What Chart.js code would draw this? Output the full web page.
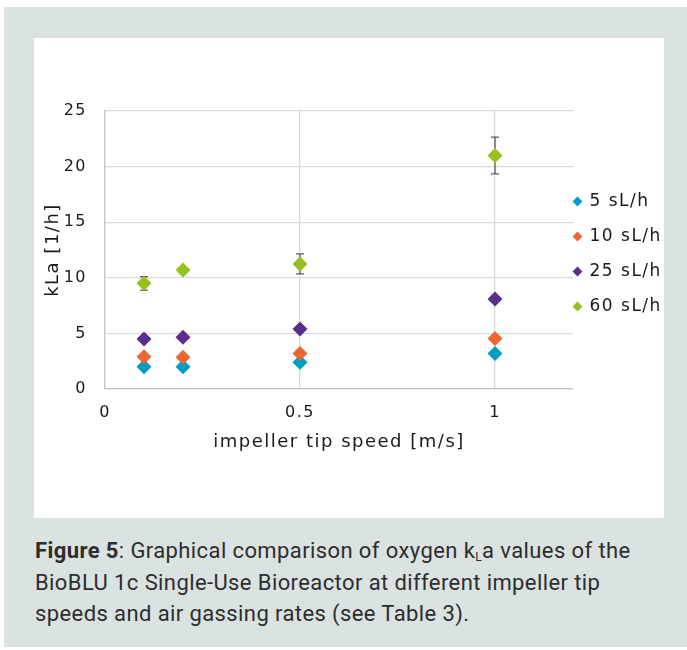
<!DOCTYPE html>
<html>
<head>
<meta charset="utf-8">
<script src="https://cdn.jsdelivr.net/npm/chart.js@4/dist/chart.umd.min.js"></script>
<style>
    html, body { margin: 0; padding: 0; background: #fff; }
    #frame { position: absolute; left: 4px; top: 7px; width: 690px; height: 640px; background: #dae3e1; }
    #panel { position: absolute; left: 34px; top: 38px; width: 630px; height: 480px; background: #fff; }
    #caption {
        position: absolute; left: 35px; top: 535px; width: 645px;
        font-family: Roboto, sans-serif; font-size: 22px; letter-spacing: 0.4px; line-height: 31.5px; color: #2d2d2d;
    }
    #caption sub { font-size: 12px; vertical-align: -3px; line-height: 0; }
</style>
</head>
<body>
<div id="frame"></div>
<div id="panel"><canvas id="chart-kla" width="630" height="480"></canvas></div>
<div id="caption"><b>Figure 5</b>: Graphical comparison of oxygen k<sub>L</sub>a values of the<br>BioBLU 1c Single-Use Bioreactor at different impeller tip<br>speeds and air gassing rates (see Table 3).</div>

<script>
// impeller tip speed [m/s]
const SPEEDS = [0.1, 0.2, 0.5, 1.0];

// kLa [1/h] per gassing rate
const KLA_5 = [2.0, 2.0, 2.4, 3.2];
const KLA_10 = [2.9, 2.85, 3.2, 4.55];
const KLA_25 = [4.5, 4.65, 5.4, 8.1];
const KLA_60 = [9.5, 10.7, 11.25, 21.0];
const ERR_60 = [0.6, 0.15, 0.9, 1.65];

const LABELS = ['5 sL/h', '10 sL/h', '25 sL/h', '60 sL/h'];

function points(ys) {
    return SPEEDS.map(function(x, i) { return { x: x, y: ys[i] }; });
}

// error bars drawn under the markers
const errorBars = {
    id: 'errorBars',
    beforeDatasetsDraw(chart) {
        const ctx = chart.ctx;
        const xs = chart.scales.x, ys = chart.scales.y;
        chart.data.datasets.forEach(function(ds) {
            if (!ds.errors) return;
            ctx.save();
            ctx.strokeStyle = '#5a5a5a';
            ctx.lineWidth = 1.3;
            ds.data.forEach(function(p, i) {
                const e = ds.errors[i];
                const px = xs.getPixelForValue(p.x);
                const top = ys.getPixelForValue(p.y + e);
                const bot = ys.getPixelForValue(p.y - e);
                ctx.beginPath();
                ctx.moveTo(px, top); ctx.lineTo(px, bot);
                ctx.moveTo(px - 4, top); ctx.lineTo(px + 4, top);
                ctx.moveTo(px - 4, bot); ctx.lineTo(px + 4, bot);
                ctx.stroke();
            });
            ctx.restore();
        });
    }
};

// wide tracking like the original figure font
const tracking = {
    id: 'tracking',
    beforeLayout(chart) { chart.ctx.letterSpacing = '1.5px'; },
    beforeDraw(chart) { chart.ctx.letterSpacing = '1.5px'; }
};

// legend sits right against the plot, the label padding only sets row spacing
// (only the left edge moves so the clip box still holds the text)
const legendShift = {
    id: 'legendShift',
    afterLayout(chart) {
        chart.legend.left -= 17;
        chart.legend.top += 4;
        chart.legend.bottom += 4;
    }
};

function series(label, data, color, order) {
    return {
        label: label,
        data: points(data),
        backgroundColor: color,
        borderColor: color,
        pointStyle: 'rectRot',
        pointRadius: 7.5,
        pointHoverRadius: 7.5,
        borderWidth: 0,
        showLine: false,
        order: order
    };
}

const green = series(LABELS[3], KLA_60, '#97c11f', 1);
green.errors = ERR_60;

const datasets = [
    series(LABELS[0], KLA_5, '#009ec6', 4),
    series(LABELS[1], KLA_10, '#ea672f', 3),
    series(LABELS[2], KLA_25, '#5b2e8d', 2),
    green
];

const FONT = '"DejaVu Sans", sans-serif';
const TEXT = '#1a1a1a';

new Chart(document.getElementById('chart-kla'), {
    type: 'scatter',
    data: { datasets: datasets },
    plugins: [tracking, errorBars, legendShift],
    options: {
        responsive: false,
        animation: false,
        devicePixelRatio: 1,
        layout: { padding: { left: 0, right: 0, top: 73, bottom: 0 } },
        plugins: {
            tooltip: { enabled: false },
            legend: {
                position: 'right',
                fullSize: false,
                align: 'center',
                maxWidth: 91,
                labels: {
                    usePointStyle: true,
                    pointStyle: 'rectRot',
                    boxWidth: 7,
                    boxHeight: 7,
                    padding: 18,
                    color: TEXT,
                    font: { family: FONT, size: 17 },
                    sort: function(a, b) { return a.datasetIndex - b.datasetIndex; }
                }
            }
        },
        scales: {
            x: {
                type: 'linear',
                min: 0,
                max: 1.2,
                afterFit: function(s) { s.height = 129; },
                grid: { color: '#d9d9d9', lineWidth: 1.3, drawTicks: false },
                border: { color: '#c4c4c4', width: 1.3 },
                ticks: {
                    stepSize: 0.5,
                    includeBounds: false,
                    padding: 14,
                    color: TEXT,
                    font: { family: FONT, size: 16 },
                    callback: function(v) { return String(v); }
                },
                title: { display: true, text: 'impeller tip speed [m/s]', color: TEXT, font: { family: FONT, size: 18 }, padding: { top: 0, bottom: 65 } }
            },
            y: {
                min: 0,
                max: 25,
                afterFit: function(s) { s.width = 71; },
                grid: { color: '#d9d9d9', lineWidth: 1.3, drawTicks: false },
                border: { color: '#c4c4c4', width: 1.3 },
                ticks: { stepSize: 5, padding: 18, color: TEXT, font: { family: FONT, size: 16 } },
                title: { display: true, text: 'kLa [1/h]', color: TEXT, font: { family: FONT, size: 18 }, padding: { top: 9, bottom: 0 } }
            }
        }
    }
});
</script>
</body>
</html>
